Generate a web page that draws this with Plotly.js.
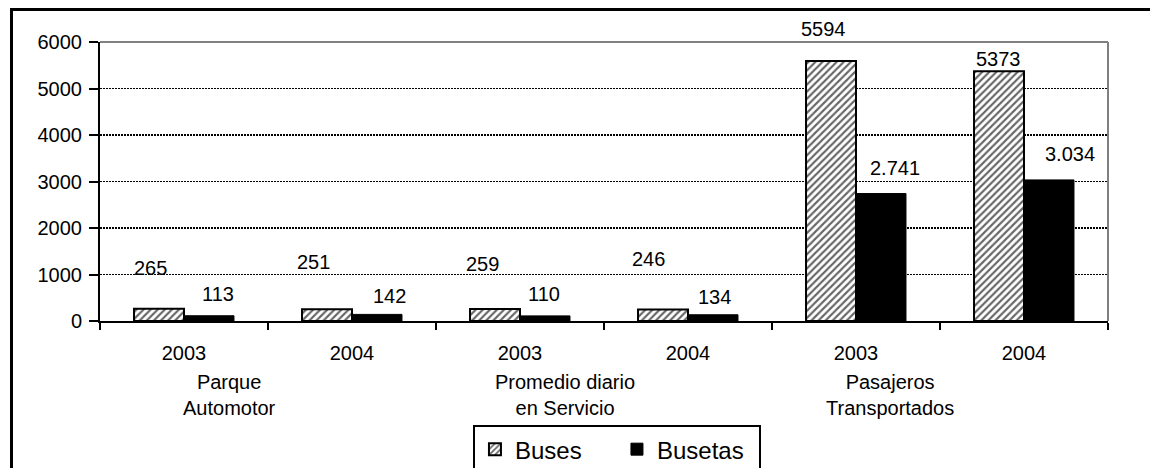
<!DOCTYPE html>
<html>
<head>
<meta charset="utf-8">
<script src="https://cdn.plot.ly/plotly-3.0.1.min.js"></script>
<style>
  html, body { margin: 0; padding: 0; background: #fff; overflow: hidden; }
  #chart { width: 1150px; height: 468px; }
</style>
</head>
<body>
<div id="chart"></div>
<script>
// ---- data ----
const categories = ["PA-2003", "PA-2004", "PD-2003", "PD-2004", "PT-2003", "PT-2004"];
const tickLabels = ["2003", "2004", "2003", "2004", "2003", "2004"];
const groupLabels = ["Parque<br>Automotor", "Promedio diario<br>en Servicio", "Pasajeros<br>Transportados"];
const seriesNames = ["Buses", "Busetas"];
const buses = [265, 251, 259, 246, 5594, 5373];
const busetas = [113, 142, 110, 134, 2741, 3034];
const busesText = ["265", "251", "259", "246", "5594", "5373"];
const busetasText = ["113", "142", "110", "134", "2.741", "3.034"];
const yTicks = [0, 1000, 2000, 3000, 4000, 5000, 6000];

// ---- label placement (pixel offsets, style only) ----
const busesDx = [-9, -14, -13, -15, -8, -1];
const busesDy = [41, 47, 45, 51, 32, 12];
const busetasDx = [9, 12, -1, 1, 14, 21];
const busetasDy = [22, 18, 22, 18, 26, 26];
const groupDx = [45, 45, 34];

const FONT = "Liberation Sans, Arial, sans-serif";

const traces = [
  {
    type: "bar", name: seriesNames[0], x: categories, y: buses,
    marker: {
      color: "#ffffff",
      line: { color: "#000", width: 2 },
      pattern: { shape: "/", fgcolor: "#666666", bgcolor: "#ffffff", size: 5, solidity: 0.42 }
    },
    hoverinfo: "skip"
  },
  {
    type: "bar", name: seriesNames[1], x: categories, y: busetas,
    marker: { color: "#000000", line: { color: "#000", width: 1 } },
    hoverinfo: "skip"
  }
];

const annotations = [];
categories.forEach((c, i) => {
  annotations.push({
    x: c, y: buses[i], xref: "x", yref: "y", text: busesText[i], showarrow: false,
    xanchor: "center", yanchor: "middle", xshift: -25 + busesDx[i], yshift: busesDy[i],
    font: { family: FONT, size: 20, color: "#000" }
  });
  annotations.push({
    x: c, y: busetas[i], xref: "x", yref: "y", text: busetasText[i], showarrow: false,
    xanchor: "center", yanchor: "middle", xshift: 25 + busetasDx[i], yshift: busetasDy[i],
    font: { family: FONT, size: 20, color: "#000" }
  });
});
groupLabels.forEach((g, k) => {
  annotations.push({
    x: categories[2 * k], y: 0, xref: "x", yref: "paper", text: g, showarrow: false,
    xanchor: "center", yanchor: "top", xshift: groupDx[k], yshift: -48, align: "center",
    font: { family: FONT, size: 20, color: "#000" }
  });
});

const layout = {
  width: 1150, height: 468,
  margin: { l: 100, r: 42, t: 42, b: 147, pad: 0, autoexpand: false },
  paper_bgcolor: "#fff", plot_bgcolor: "#fff",
  font: { family: FONT, size: 20, color: "#000" },
  barmode: "group", bargap: 0.405, bargroupgap: 0,
  showlegend: true,
  legend: {
    orientation: "h", x: 0.370, xanchor: "left", y: -0.373, yanchor: "top",
    bordercolor: "#000", borderwidth: 2, bgcolor: "#fff",
    font: { family: FONT, size: 24, color: "#000" },
    entrywidth: 97, entrywidthmode: "pixels", itemwidth: 30
  },
  xaxis: {
    type: "category", categoryorder: "array", categoryarray: categories,
    tickmode: "array", tickvals: categories, ticktext: tickLabels,
    tickson: "boundaries", ticks: "outside", ticklen: 7, tickwidth: 2, tickcolor: "#000",
    showline: true, linecolor: "#000", linewidth: 2, showgrid: false, zeroline: false,
    tickfont: { family: FONT, size: 20, color: "#000" }, ticklabelstandoff: 13,
    fixedrange: true
  },
  yaxis: {
    range: [0, 6000], tickmode: "array", tickvals: yTicks,
    ticks: "outside", ticklen: 9, tickwidth: 2, tickcolor: "#000",
    showline: true, linecolor: "#000", linewidth: 2,
    showgrid: true, gridcolor: "#000", gridwidth: 1.5, griddash: "2px,1px",
    zeroline: false,
    tickfont: { family: FONT, size: 20, color: "#000" }, ticklabelstandoff: 3,
    fixedrange: true
  },
  shapes: [
    // plot frame: top and right edges in gray
    { type: "line", xref: "paper", yref: "paper", x0: 0, x1: 1, y0: 1, y1: 1,
      line: { color: "#808080", width: 2 }, layer: "above" },
    { type: "line", xref: "paper", yref: "paper", x0: 1, x1: 1, y0: 0, y1: 1,
      line: { color: "#808080", width: 2 }, layer: "above" },
    // outer chart frame (left and top edges visible)
    { type: "path", xref: "paper", yref: "paper",
      path: "M -0.0878,-0.7 L -0.0878,1.1165 L 1.2,1.1165",
      line: { color: "#000", width: 3 }, layer: "above" }
  ],
  annotations: annotations
};

Plotly.newPlot("chart", traces, layout, { displayModeBar: false, staticPlot: true });
</script>
</body>
</html>
